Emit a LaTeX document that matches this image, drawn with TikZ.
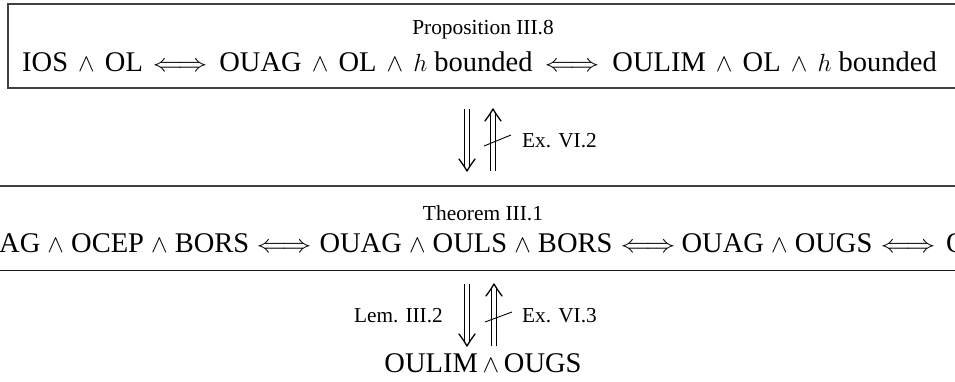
\documentclass[tikz,border=0pt]{standalone}
\usepackage{fontspec}
\setmainfont{Liberation Serif}
\usetikzlibrary{arrows.meta}
\newcommand{\iffglyph}{\scalebox{1.2}[1]{$\Longleftrightarrow$}}
\newcommand{\andw}{\hspace{3pt}$\wedge$\hspace{3pt}}
\begin{document}
\begin{tikzpicture}[x=1pt,y=-1pt,
  seg/.style={font=\fontsize{28.5}{33}\selectfont, inner sep=0pt, anchor=base},
  iffarrow/.style={font=\fontsize{28.5}{33}\selectfont, inner sep=0pt, anchor=base},
  titlefont/.style={font=\fontsize{21.4}{25}\selectfont, inner sep=0pt},
  lblfont/.style={font=\fontsize{21.3}{25}\selectfont, inner sep=0pt},
  shaft/.style={line width=0.9pt},
  head/.style={line width=1.3pt, line cap=round, line join=round},
  strike/.style={line width=0.9pt},
  frame/.style={draw=black!75, line width=1.2pt}]
\useasboundingbox (0,0) rectangle (955,382);
\begin{scope}
\clip (0,0) rectangle (955,382);
% top box
\draw[frame] (8,4) rectangle (975,88);
\node[titlefont] (proptitle) at (483,30) {Proposition III.8};
\node[seg, anchor=base west] (t1) at (22,72) {IOS \andw{} OL};
\node[iffarrow] (ta1) at (180,72) {\iffglyph};
\node[seg] (t2) at (376,72) {OUAG \andw{} OL \andw{} $h$ bounded};
\node[iffarrow] (ta2) at (572,72) {\iffglyph};
\node[seg, anchor=base east] (t3) at (937,72) {OULIM \andw{} OL \andw{} $h$ bounded};
% middle box
\draw[frame] (-20,186) -- (975,186);
\draw[frame, draw=black!90, line width=1pt] (-20,270) -- (975,270);
\node[titlefont] (thmtitle) at (483,213) {Theorem III.1};
\node[seg, anchor=base west] (m1) at (-1,252) {AG $\wedge$ OCEP $\wedge$ BORS};
\node[iffarrow] (ma1) at (284,252) {\iffglyph};
\node[seg] (m2) at (466,252) {OUAG $\wedge$ OULS $\wedge$ BORS};
\node[iffarrow] (ma2) at (648,252) {\iffglyph};
\node[seg] (m3) at (777,252) {OUAG $\wedge$ OUGS};
\node[iffarrow] (ma3) at (908,252) {\iffglyph};
\node[seg, anchor=base west] (m4) at (946,252) {O};
% bottom node
\node[seg] (bottom) at (483,372) {OULIM\,$\wedge$\,OUGS};
% coordinates for arrows
\coordinate (a1s) at (467,109);
\coordinate (a1e) at (467,171);
\coordinate (b1s) at (493,171);
\coordinate (b1e) at (493,109);
\coordinate (s1a) at (484,146);
\coordinate (s1b) at (511,135);
\coordinate (a2s) at (467,284);
\coordinate (a2e) at (467,346);
\coordinate (b2s) at (494,346);
\coordinate (b2e) at (494,284);
\coordinate (s2a) at (485,322);
\coordinate (s2b) at (512,312);
% down arrow 1
\draw[shaft] ([xshift=-2.2pt]a1s) -- ([xshift=-2.2pt,yshift=4pt]a1e);
\draw[shaft] ([xshift=2.2pt]a1s) -- ([xshift=2.2pt,yshift=4pt]a1e);
\draw[head] ([xshift=-8pt,yshift=12pt]a1e) .. controls ([xshift=-3pt,yshift=5pt]a1e) .. (a1e) .. controls ([xshift=3pt,yshift=5pt]a1e) .. ([xshift=8pt,yshift=12pt]a1e);
% up arrow 1
\draw[shaft] ([xshift=-2.2pt]b1s) -- ([xshift=-2.2pt,yshift=-4pt]b1e);
\draw[shaft] ([xshift=2.2pt]b1s) -- ([xshift=2.2pt,yshift=-4pt]b1e);
\draw[head] ([xshift=-8pt,yshift=-12pt]b1e) .. controls ([xshift=-3pt,yshift=-5pt]b1e) .. (b1e) .. controls ([xshift=3pt,yshift=-5pt]b1e) .. ([xshift=8pt,yshift=-12pt]b1e);
\draw[strike] (s1a) -- (s1b);
\node[lblfont, anchor=west] (ex1) at (522,141) {Ex. VI.2};
% down arrow 2
\draw[shaft] ([xshift=-2.2pt]a2s) -- ([xshift=-2.2pt,yshift=4pt]a2e);
\draw[shaft] ([xshift=2.2pt]a2s) -- ([xshift=2.2pt,yshift=4pt]a2e);
\draw[head] ([xshift=-8pt,yshift=12pt]a2e) .. controls ([xshift=-3pt,yshift=5pt]a2e) .. (a2e) .. controls ([xshift=3pt,yshift=5pt]a2e) .. ([xshift=8pt,yshift=12pt]a2e);
% up arrow 2
\draw[shaft] ([xshift=-2.2pt]b2s) -- ([xshift=-2.2pt,yshift=-4pt]b2e);
\draw[shaft] ([xshift=2.2pt]b2s) -- ([xshift=2.2pt,yshift=-4pt]b2e);
\draw[head] ([xshift=-8pt,yshift=-12pt]b2e) .. controls ([xshift=-3pt,yshift=-5pt]b2e) .. (b2e) .. controls ([xshift=3pt,yshift=-5pt]b2e) .. ([xshift=8pt,yshift=-12pt]b2e);
\draw[strike] (s2a) -- (s2b);
\node[lblfont, anchor=east] (lem) at (443,316) {Lem. III.2};
\node[lblfont, anchor=west] (ex2) at (522,316) {Ex. VI.3};
\end{scope}
\end{tikzpicture}
\end{document}
